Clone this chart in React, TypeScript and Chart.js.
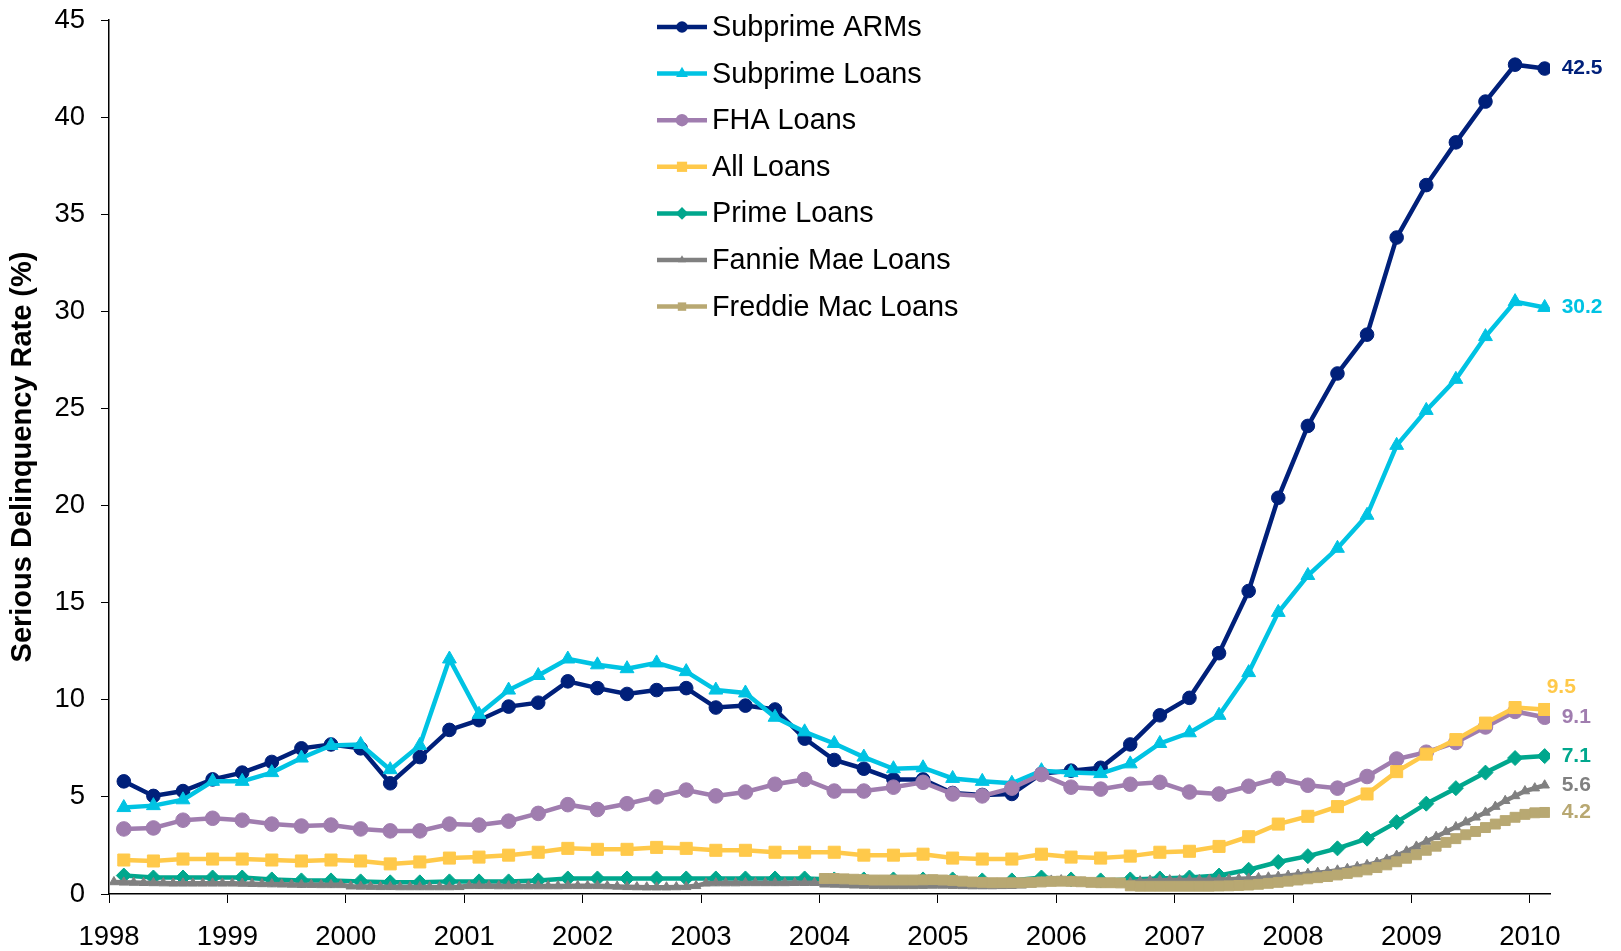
import React, { useEffect, useRef } from 'react';
import { Chart, registerables } from 'chart.js';

Chart.register(...registerables);

// ---- Categories (time axis) ----
const quarterMonths = [2, 5, 8, 11];
const firstYear = 1998;
const lastYear = 2010;
const yearTicks = [1998, 1999, 2000, 2001, 2002, 2003, 2004, 2005, 2006, 2007, 2008, 2009, 2010];

// ---- Quarterly series (Feb, May, Aug, Nov; 1998 Q1 .. 2010 Q1) ----
const subprimeARMs = [
  5.8, 5.05, 5.3, 5.9,
  6.25, 6.8, 7.5, 7.7,
  7.5, 5.7, 7.05, 8.45,
  8.95, 9.65, 9.85, 10.95,
  10.6, 10.3, 10.5, 10.6,
  9.6, 9.7, 9.5, 8.0,
  6.9, 6.45, 5.9, 5.9,
  5.2, 5.1, 5.15, 6.2,
  6.35, 6.5, 7.7, 9.2,
  10.1, 12.4, 15.6, 20.4,
  24.1, 26.8, 28.8, 33.8,
  36.5, 38.7, 40.8, 42.7,
  42.5,
];
const subprimeLoans = [
  4.45, 4.55, 4.85, 5.8,
  5.8, 6.25, 7.0, 7.65,
  7.7, 6.4, 7.65, 12.1,
  9.25, 10.5, 11.25, 12.1,
  11.8, 11.6, 11.9, 11.45,
  10.5, 10.35, 9.1, 8.35,
  7.75, 7.05, 6.45, 6.5,
  5.95, 5.8, 5.7, 6.35,
  6.25, 6.2, 6.7, 7.75,
  8.3, 9.2, 11.4, 14.5,
  16.4, 17.8, 19.5, 23.1,
  24.9, 26.5, 28.7, 30.5,
  30.2,
];
const fhaLoans = [
  3.35, 3.4, 3.8, 3.9,
  3.8, 3.6, 3.5, 3.55,
  3.35, 3.25, 3.25, 3.6,
  3.55, 3.75, 4.15, 4.6,
  4.35, 4.65, 5.0, 5.35,
  5.05, 5.25, 5.65, 5.9,
  5.3, 5.3, 5.5, 5.75,
  5.15, 5.05, 5.45, 6.15,
  5.5, 5.4, 5.65, 5.75,
  5.25, 5.15, 5.55, 5.95,
  5.6, 5.45, 6.05, 6.95,
  7.3, 7.8, 8.6, 9.4,
  9.1,
];
const allLoans = [
  1.75, 1.7, 1.8, 1.8,
  1.8, 1.75, 1.7, 1.75,
  1.7, 1.55, 1.65, 1.85,
  1.9, 2.0, 2.15, 2.35,
  2.3, 2.3, 2.4, 2.35,
  2.25, 2.25, 2.15, 2.15,
  2.15, 2.0, 2.0, 2.05,
  1.85, 1.8, 1.8, 2.05,
  1.9, 1.85, 1.95, 2.15,
  2.2, 2.45, 2.95, 3.6,
  4.0, 4.5, 5.15, 6.3,
  7.2, 7.95, 8.8, 9.6,
  9.5,
];
const primeLoans = [
  0.95, 0.85, 0.85, 0.85,
  0.85, 0.75, 0.7, 0.7,
  0.65, 0.6, 0.6, 0.65,
  0.65, 0.65, 0.7, 0.8,
  0.8, 0.8, 0.8, 0.8,
  0.8, 0.8, 0.8, 0.8,
  0.75, 0.75, 0.75, 0.75,
  0.75, 0.7, 0.7, 0.85,
  0.75, 0.7, 0.75, 0.8,
  0.85, 0.95, 1.25, 1.65,
  1.95, 2.35, 2.85, 3.7,
  4.65, 5.45, 6.25, 7.0,
  7.1,
];

// ---- Monthly series ----
// Fannie Mae: Jan 1998 .. Feb 2010
const fannieMae = [
  0.62, 0.6, 0.59, 0.58, 0.57, 0.56, 0.55, 0.55, 0.55, 0.55, 0.55, 0.55,
  0.55, 0.54, 0.53, 0.52, 0.51, 0.5, 0.49, 0.48, 0.48, 0.47, 0.47, 0.47,
  0.4, 0.39, 0.38, 0.37, 0.37, 0.36, 0.36, 0.36, 0.36, 0.36, 0.36, 0.37,
  0.42, 0.42, 0.42, 0.41, 0.41, 0.41, 0.41, 0.41, 0.41, 0.41, 0.42, 0.42,
  0.42, 0.42, 0.41, 0.39, 0.37, 0.36, 0.35, 0.35, 0.35, 0.36, 0.37, 0.42,
  0.55, 0.56, 0.56, 0.56, 0.57, 0.57, 0.57, 0.57, 0.57, 0.58, 0.58, 0.58,
  0.5, 0.49, 0.47, 0.45, 0.44, 0.43, 0.42, 0.42, 0.42, 0.42, 0.43, 0.44,
  0.44, 0.43, 0.42, 0.41, 0.41, 0.41, 0.42, 0.43, 0.45, 0.5, 0.62, 0.7,
  0.72, 0.68, 0.6, 0.55, 0.52, 0.52, 0.54, 0.6, 0.66, 0.7, 0.71, 0.72,
  0.72, 0.72, 0.73, 0.74, 0.75, 0.76, 0.78, 0.8, 0.83, 0.86, 0.9, 0.95,
  1.0, 1.05, 1.1, 1.15, 1.22, 1.3, 1.4, 1.5, 1.62, 1.78, 1.98, 2.2,
  2.45, 2.7, 2.95, 3.2, 3.45, 3.7, 3.95, 4.2, 4.5, 4.8, 5.05, 5.3,
  5.45, 5.6,
];
// Freddie Mac: Jan 2004 .. Feb 2010
const freddieStartYear = 2004;
const freddieMac = [
  0.8, 0.8, 0.78, 0.76, 0.74, 0.72, 0.72, 0.72, 0.72, 0.72, 0.73, 0.74,
  0.72, 0.7, 0.66, 0.62, 0.6, 0.58, 0.58, 0.58, 0.58, 0.6, 0.62, 0.65,
  0.66, 0.65, 0.63, 0.6, 0.58, 0.58, 0.57, 0.42, 0.4, 0.4, 0.4, 0.4,
  0.4, 0.4, 0.4, 0.4, 0.41, 0.42, 0.44, 0.46, 0.5, 0.55, 0.6, 0.66,
  0.72, 0.78, 0.84, 0.9, 0.98, 1.06, 1.14, 1.24, 1.36, 1.5, 1.66, 1.84,
  2.02, 2.25, 2.46, 2.66, 2.85, 3.05, 3.22, 3.42, 3.6, 3.78, 3.95, 4.1,
  4.18, 4.2,
];

const seriesNames = [
  'Subprime ARMs',
  'Subprime Loans',
  'FHA Loans',
  'All Loans',
  'Prime Loans',
  'Fannie Mae Loans',
  'Freddie Mac Loans',
];

// ---- Styles ----
const seriesColors = ['#00207A', '#00C3E3', '#A07DAF', '#FFC94A', '#00A78D', '#808080', '#B8A872'];
const seriesMarkers = ['circle', 'triangle', 'circle', 'rect', 'rectRot', 'triangle', 'rect'];
const seriesRadius = [6.8, 8, 7.3, 8.5, 7.5, 5.5, 7];
const endLabelOffsets = [
  [17, 0],
  [17, 0],
  [17, 0],
  [2, -22],
  [17, 0],
  [17, 0],
  [17, 0],
];

const FONT = "'Liberation Sans', Arial, Helvetica, sans-serif";

// decimal-year positions for categories
function quarterX(): number[] {
  const xs: number[] = [];
  for (let y = firstYear; y <= lastYear; y++) {
    for (const m of quarterMonths) {
      if (xs.length < subprimeARMs.length) xs.push(y + (m - 0.5) / 12);
    }
  }
  return xs;
}
function monthX(startYear: number, count: number): number[] {
  const xs: number[] = [];
  for (let i = 0; i < count; i++) {
    const y = startYear + Math.floor(i / 12);
    const m = i % 12;
    xs.push(y + (m + 0.5) / 12);
  }
  return xs;
}

function drawMarker(ctx: CanvasRenderingContext2D, style: string, x: number, y: number, r: number, color: string) {
  ctx.fillStyle = color;
  ctx.beginPath();
  if (style === 'circle') {
    ctx.arc(x, y, r, 0, Math.PI * 2);
  } else if (style === 'triangle') {
    ctx.moveTo(x, y - r);
    ctx.lineTo(x + r * 0.866, y + r * 0.5);
    ctx.lineTo(x - r * 0.866, y + r * 0.5);
  } else if (style === 'rect') {
    const s = r * Math.SQRT1_2;
    ctx.rect(x - s, y - s, 2 * s, 2 * s);
  } else {
    ctx.moveTo(x, y - r);
    ctx.lineTo(x + r, y);
    ctx.lineTo(x, y + r);
    ctx.lineTo(x - r, y);
  }
  ctx.closePath();
  ctx.fill();
}

const overlayPlugin = {
  id: 'overlay',
  afterDraw(chart: any) {
    const ctx: CanvasRenderingContext2D = chart.ctx;
    ctx.save();
    // legend
    const lx0 = 657;
    const lx1 = 707;
    const ly0 = 27;
    const ldy = 46.6;
    seriesNames.forEach((name, i) => {
      const y = ly0 + i * ldy;
      ctx.strokeStyle = seriesColors[i];
      ctx.lineWidth = 4.5;
      ctx.beginPath();
      ctx.moveTo(lx0, y);
      ctx.lineTo(lx1, y);
      ctx.stroke();
      drawMarker(ctx, seriesMarkers[i], (lx0 + lx1) / 2, y, seriesRadius[i] * 0.85, seriesColors[i]);
      ctx.fillStyle = '#000';
      ctx.font = `28.8px ${FONT}`;
      ctx.textAlign = 'left';
      ctx.textBaseline = 'middle';
      ctx.fillText(name, 712, y + 1);
    });
    // end labels
    chart.data.datasets.forEach((ds: any, i: number) => {
      const meta = chart.getDatasetMeta(i);
      const pts = meta.data;
      const last = pts[pts.length - 1];
      const val = ds.data[ds.data.length - 1].y;
      ctx.fillStyle = seriesColors[i];
      ctx.font = `bold 21px ${FONT}`;
      ctx.textAlign = 'left';
      ctx.textBaseline = 'middle';
      ctx.fillText(val.toFixed(1), last.x + endLabelOffsets[i][0], last.y + endLabelOffsets[i][1]);
    });
    ctx.restore();
  },
};

export default function App() {
  const ref = useRef<HTMLCanvasElement | null>(null);

  useEffect(() => {
    if (!ref.current) return;
    const qx = quarterX();
    const fx = monthX(firstYear, fannieMae.length);
    const frx = monthX(freddieStartYear, freddieMac.length);
    const seriesValues = [subprimeARMs, subprimeLoans, fhaLoans, allLoans, primeLoans, fannieMae, freddieMac];
    const seriesXs = [qx, qx, qx, qx, qx, fx, frx];

    const datasets = seriesNames.map((name, i) => ({
      label: name,
      data: seriesValues[i].map((v, j) => ({ x: seriesXs[i][j], y: v })),
      borderColor: seriesColors[i],
      backgroundColor: seriesColors[i],
      borderWidth: 4.5,
      pointStyle: seriesMarkers[i],
      pointRadius: seriesRadius[i],
      pointBackgroundColor: seriesColors[i],
      pointBorderColor: seriesColors[i],
      pointBorderWidth: 1,
      tension: 0,
      order: seriesNames.length - i,
    }));

    const chart = new Chart(ref.current, {
      type: 'line',
      data: { datasets },
      options: {
        responsive: false,
        animation: false,
        events: [],
        layout: { padding: { top: 20, right: 71, left: 0, bottom: 0 } },
        plugins: {
          legend: { display: false },
          tooltip: { enabled: false },
        },
        scales: {
          x: {
            type: 'linear',
            min: firstYear,
            max: 2010.17,
            afterFit: (s: any) => {
              s.height = 57;
              s.paddingLeft = 0;
              s.paddingRight = 0;
            },
            afterBuildTicks: (s: any) => {
              s.ticks = yearTicks.map((v) => ({ value: v }));
            },
            ticks: {
              stepSize: 1,
              includeBounds: false,
              autoSkip: false,
              maxRotation: 0,
              color: '#000',
              padding: 18,
              font: { family: FONT, size: 27.5 },
              callback: (v: any) => String(Math.round(v)),
            },
            grid: {
              display: true,
              drawOnChartArea: false,
              drawTicks: true,
              tickLength: 9,
              color: '#000',
              lineWidth: 1,
            },
            border: { display: true, color: '#000', width: 1.5 },
          },
          y: {
            type: 'linear',
            min: 0,
            max: 45,
            afterFit: (s: any) => {
              s.width = 109;
              s.paddingTop = 0;
              s.paddingBottom = 0;
            },
            ticks: {
              stepSize: 5,
              color: '#000',
              padding: 16,
              font: { family: FONT, size: 27.5 },
              callback: (v: any) => String(v),
            },
            title: {
              display: true,
              text: 'Serious Delinquency Rate (%)',
              color: '#000',
              font: { family: FONT, size: 29, weight: 'bold' },
              padding: { top: 6, bottom: 0 },
            },
            grid: {
              display: true,
              drawOnChartArea: false,
              drawTicks: true,
              tickLength: 8,
              color: '#000',
              lineWidth: 1,
            },
            border: { display: true, color: '#000', width: 1.5 },
          },
        },
      } as any,
      plugins: [overlayPlugin],
    });
    return () => chart.destroy();
  }, []);

  return (
    <div style={{ position: 'fixed', left: 0, top: 0, width: 1621, height: 951, background: '#fff' }}>
      <canvas ref={ref} width={1621} height={951} style={{ display: 'block', width: 1621, height: 951 }} />
    </div>
  );
}
